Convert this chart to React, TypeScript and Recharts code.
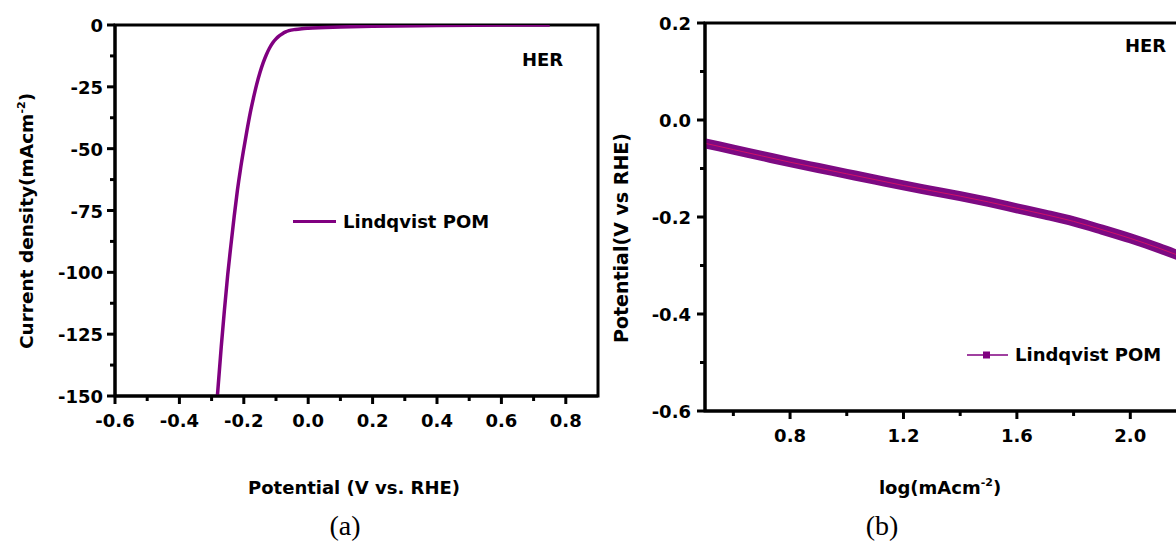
import React from "react";
import { LineChart, Line, XAxis, YAxis, ReferenceArea, Legend } from "recharts";

// (a) LSV polarisation curve
const lsvPotential = [
  -0.282, -0.27, -0.26, -0.25, -0.24, -0.23, -0.22, -0.21, -0.2, -0.19, -0.18, -0.17, -0.16, -0.15,
  -0.14, -0.13, -0.12, -0.11, -0.1, -0.09, -0.08, -0.07, -0.06, -0.04, -0.02, 0.0, 0.1, 0.2, 0.4, 0.6, 0.75,
];
const lsvCurrent = [
  -150, -130, -115, -101, -89, -77.5, -67, -58, -50, -42.5, -35.5, -29.5, -24, -19.3,
  -15.3, -12, -9.3, -7.2, -5.6, -4.4, -3.5, -2.8, -2.3, -1.8, -1.5, -1.3, -0.8, -0.5, -0.2, -0.05, 0,
];
const lsvXTicks = [-0.6, -0.5, -0.4, -0.3, -0.2, -0.1, 0, 0.1, 0.2, 0.3, 0.4, 0.5, 0.6, 0.7, 0.8];
const lsvXMajor = [-0.6, -0.4, -0.2, 0, 0.2, 0.4, 0.6, 0.8];
const lsvYTicks = [-150, -137.5, -125, -112.5, -100, -87.5, -75, -62.5, -50, -37.5, -25, -12.5, 0];
const lsvYMajor = [-150, -125, -100, -75, -50, -25, 0];

// (b) Tafel plot
const tafelLog = [0.5, 0.6, 0.7, 0.8, 0.9, 1.0, 1.1, 1.2, 1.3, 1.4, 1.5, 1.6, 1.7, 1.8, 1.9, 2.0, 2.1, 2.2];
const tafelPotential = [
  -0.048, -0.061, -0.074, -0.087, -0.099, -0.111, -0.123, -0.135, -0.146, -0.157, -0.169,
  -0.182, -0.195, -0.209, -0.226, -0.244, -0.264, -0.286,
];
const tafelXTicks = [0.6, 0.8, 1.0, 1.2, 1.4, 1.6, 1.8, 2.0];
const tafelXMajor = [0.8, 1.2, 1.6, 2.0];
const tafelYTicks = [-0.6, -0.5, -0.4, -0.3, -0.2, -0.1, 0, 0.1, 0.2];
const tafelYMajor = [-0.6, -0.4, -0.2, 0, 0.2];

const lsvData = lsvPotential.map((v, i) => ({ v, j: lsvCurrent[i] }));
const tafelData = tafelLog.map((x, i) => ({ x, e: tafelPotential[i] }));

const PURPLE = "#800080";
const FONT = "'DejaVu Sans', Verdana, sans-serif";

const isIn = (list: number[], v: number) => list.some((m) => Math.abs(m - v) < 1e-6);

function XTick(props: any) {
  const { x, y, payload, majors, fmt } = props;
  const major = isIn(majors, payload.value);
  return (
    <g>
      <line x1={x} x2={x} y1={y} y2={y + (major ? 8 : 5)} stroke="#000" strokeWidth={3} />
      {major && (
        <text x={x} y={y + 31} textAnchor="middle" fontFamily={FONT} fontWeight="bold" fontSize={18} fill="#000">
          {fmt(payload.value)}
        </text>
      )}
    </g>
  );
}

function YTick(props: any) {
  const { x, y, payload, majors, fmt, gap } = props;
  const major = isIn(majors, payload.value);
  return (
    <g>
      <line x1={x} x2={x - (major ? 8 : 5)} y1={y} y2={y} stroke="#000" strokeWidth={3} />
      {major && (
        <text x={x - gap} y={y + 7} textAnchor="end" fontFamily={FONT} fontWeight="bold" fontSize={18} fill="#000">
          {fmt(payload.value)}
        </text>
      )}
    </g>
  );
}

function LsvLegend() {
  return (
    <div style={{ display: "flex", alignItems: "center", fontFamily: FONT, fontWeight: "bold", fontSize: 18 }}>
      <span style={{ display: "inline-block", width: 43, height: 3, background: PURPLE, marginRight: 7 }} />
      <span>Lindqvist POM</span>
    </div>
  );
}

function TafelLegend() {
  return (
    <div style={{ display: "flex", alignItems: "center", fontFamily: FONT, fontWeight: "bold", fontSize: 18 }}>
      <svg width={41} height={10} style={{ marginRight: 7 }}>
        <line x1={0} x2={41} y1={5} y2={5} stroke={PURPLE} strokeWidth={1.5} />
        <rect x={16} y={1.5} width={7} height={7} fill={PURPLE} />
      </svg>
      <span>Lindqvist POM</span>
    </div>
  );
}

const titleStyle = { fontFamily: FONT, fontWeight: "bold" as const, fontSize: 18, fill: "#000" };

export default function App() {
  return (
    <div
      style={{
        position: "absolute",
        left: 0,
        top: 0,
        width: 1176,
        height: 542,
        overflow: "hidden",
        background: "#fff",
      }}
    >
      <div style={{ position: "absolute", left: 0, top: 0 }}>
        <LineChart width={620} height={510} data={lsvData} margin={{ top: 25, right: 22, bottom: 53, left: 15 }}>
          <XAxis
            dataKey="v"
            type="number"
            domain={[-0.6, 0.9]}
            ticks={lsvXTicks}
            allowDataOverflow
            height={40}
            tickSize={0}
            tickMargin={0}
            tickLine={false}
            axisLine={{ stroke: "#000", strokeWidth: 3 }}
            tick={<XTick majors={lsvXMajor} fmt={(v: number) => v.toFixed(1)} />}
          />
          <YAxis
            type="number"
            domain={[-150, 0]}
            ticks={lsvYTicks}
            allowDataOverflow
            width={100}
            tickSize={0}
            tickMargin={0}
            tickLine={false}
            axisLine={{ stroke: "#000", strokeWidth: 3 }}
            tick={<YTick majors={lsvYMajor} gap={12} fmt={(v: number) => String(v)} />}
          />
          <ReferenceArea x1={-0.6} x2={0.9} y1={-150} y2={0} fill="none" stroke="#000" strokeWidth={3} />
          <Line
            dataKey="j"
            type="monotone"
            stroke={PURPLE}
            strokeWidth={3.5}
            dot={false}
            isAnimationActive={false}
          />
          <Legend content={<LsvLegend />} wrapperStyle={{ left: 293, top: 211, width: 220 }} />
          <text x={522} y={66} style={titleStyle}>HER</text>
          <text x={354} y={494} textAnchor="middle" style={titleStyle}>Potential (V vs. RHE)</text>
          <text x={33} y={221} textAnchor="middle" transform="rotate(-90 33 221)" style={{ ...titleStyle, fontSize: 18.5 }}>
            Current density(mAcm<tspan dy={-8} fontSize={11}>-2</tspan><tspan dy={8}>)</tspan>
          </text>
        </LineChart>
      </div>

      <div style={{ position: "absolute", left: 600, top: 0 }}>
        <LineChart width={600} height={510} data={tafelData} margin={{ top: 23, right: 13, bottom: 40, left: 5 }}>
          <XAxis
            dataKey="x"
            type="number"
            domain={[0.5, 2.2]}
            ticks={tafelXTicks}
            allowDataOverflow
            height={38}
            tickSize={0}
            tickMargin={0}
            tickLine={false}
            axisLine={{ stroke: "#000", strokeWidth: 3 }}
            tick={<XTick majors={tafelXMajor} fmt={(v: number) => v.toFixed(1)} />}
          />
          <YAxis
            type="number"
            domain={[-0.6, 0.2]}
            ticks={tafelYTicks}
            allowDataOverflow
            width={100}
            tickSize={0}
            tickMargin={0}
            tickLine={false}
            axisLine={{ stroke: "#000", strokeWidth: 3 }}
            tick={<YTick majors={tafelYMajor} gap={14} fmt={(v: number) => (Math.abs(v) < 1e-9 ? "0.0" : v.toFixed(1))} />}
          />
          <ReferenceArea x1={0.5} x2={2.2} y1={-0.6} y2={0.2} fill="none" stroke="#000" strokeWidth={3} />
          <Line
            dataKey="e"
            type="monotone"
            stroke="#7d0a82"
            strokeWidth={10}
            dot={false}
            isAnimationActive={false}
          />
          <Line
            dataKey="e"
            type="monotone"
            stroke="#d01068"
            strokeWidth={1}
            dot={false}
            isAnimationActive={false}
            legendType="none"
          />
          <Legend content={<TafelLegend />} wrapperStyle={{ left: 367, top: 344, width: 220 }} />
          <text x={525} y={52} style={titleStyle}>HER</text>
          <text x={340} y={494} textAnchor="middle" style={titleStyle}>
            log(mAcm<tspan dy={-8} fontSize={11}>-2</tspan><tspan dy={8}>)</tspan>
          </text>
          <text x={28} y={238} textAnchor="middle" transform="rotate(-90 28 238)" style={{ ...titleStyle, fontSize: 19 }}>
            Potential(V vs RHE)
          </text>
        </LineChart>
      </div>

      <div style={{ position: "absolute", left: 295, top: 510, width: 100, textAlign: "center", fontFamily: "'Liberation Serif', serif", fontSize: 28, lineHeight: "32px" }}>
        (a)
      </div>
      <div style={{ position: "absolute", left: 832, top: 510, width: 100, textAlign: "center", fontFamily: "'Liberation Serif', serif", fontSize: 28, lineHeight: "32px" }}>
        (b)
      </div>
    </div>
  );
}
